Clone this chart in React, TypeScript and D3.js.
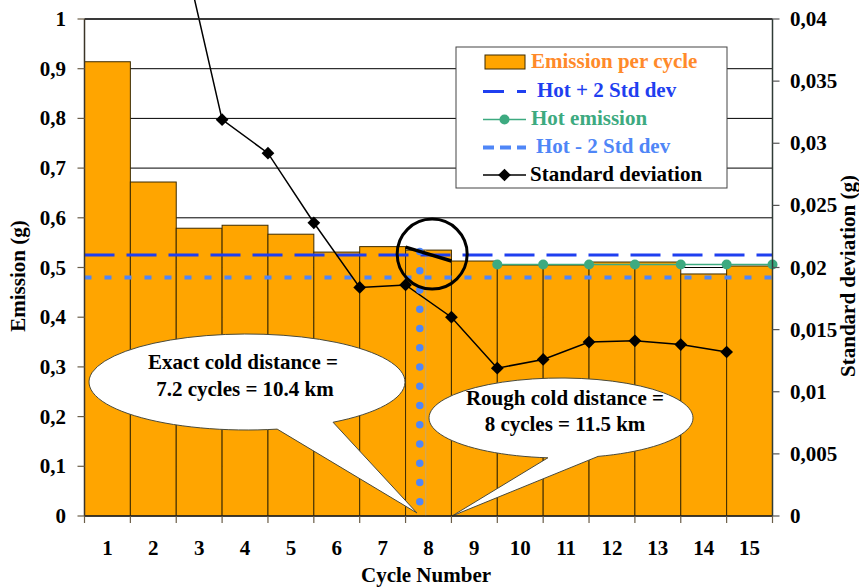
import React from 'react';
import * as d3 from 'd3';

const categories = ['1', '2', '3', '4', '5', '6', '7', '8', '9', '10', '11', '12', '13', '14', '15'];
const emissionPerCycle = [0.914, 0.672, 0.579, 0.585, 0.567, 0.531, 0.542, 0.535, 0.513, 0.505, 0.505, 0.511, 0.511, 0.487, 0.503];

const stdDevPositions = [1, 2, 3, 4, 5, 6, 7, 8, 9, 10, 11, 12, 13, 14];
const stdDevValues = [0.075, 0.048, 0.0319, 0.0292, 0.0236, 0.0184, 0.0186, 0.016, 0.0119, 0.0126, 0.014, 0.0141, 0.0138, 0.0132];

const hotPositions = [9, 10, 11, 12, 13, 14, 15];
const hotEmissionValues = [0.506, 0.506, 0.506, 0.506, 0.506, 0.506, 0.506];

const bandPositions = [0, 15];
const hotPlus2Std = [0.525, 0.525];
const hotMinus2Std = [0.48, 0.48];

const coldPositions = [7.31, 7.31];
const coldValues = [0.532, 0];
const edgePositions = [7.44, 7.44];
const edgeValues = [0.535, 0];
const interpPositions = [7, 8];
const interpValues = [0.541, 0.513];
const circlePos = 7.58;
const circleVal = 0.527;

const leftTicks = [0, 0.1, 0.2, 0.3, 0.4, 0.5, 0.6, 0.7, 0.8, 0.9, 1];
const leftTickLabels = ['0', '0,1', '0,2', '0,3', '0,4', '0,5', '0,6', '0,7', '0,8', '0,9', '1'];
const rightTicks = [0, 0.005, 0.01, 0.015, 0.02, 0.025, 0.03, 0.035, 0.04];
const rightTickLabels = ['0', '0,005', '0,01', '0,015', '0,02', '0,025', '0,03', '0,035', '0,04'];

const legendItems = ['Emission per cycle', 'Hot + 2 Std dev', 'Hot emission', 'Hot - 2 Std dev', 'Standard deviation'];

const W = 859, H = 587;
const L = 84.5, R = 772.5, T = 19, B = 516;
const FONT = 'Liberation Serif';
const FS = 21;

const ORANGE = '#FFA500';
const DARKBLUE = '#1f3ff0';
const LIGHTBLUE = '#4f86f7';
const GREEN = '#3daa80';
const LEGEND_ORANGE = '#ff8a2a';

function calloutPath(cx: number, cy: number, rx: number, ry: number, aA: number, aB: number, tx: number, ty: number) {
  const ra = (aA * Math.PI) / 180, rb = (aB * Math.PI) / 180;
  const ax = cx + rx * Math.cos(ra), ay = cy + ry * Math.sin(ra);
  const bx = cx + rx * Math.cos(rb), by = cy + ry * Math.sin(rb);
  return `M${ax},${ay} L${tx},${ty} L${bx},${by} A${rx},${ry} 0 1 1 ${ax},${ay} Z`;
}

export default function App() {
  const xBand = d3.scaleBand<string>().domain(categories).range([L, R]).padding(0);
  const xPos = d3.scaleLinear().domain([0, 15]).range([L, R]);
  const yL = d3.scaleLinear().domain([0, 1]).range([B, T]);
  const yR = d3.scaleLinear().domain([0, 0.04]).range([B, T]);

  const lineL = d3.line<[number, number]>().x(d => xPos(d[0])).y(d => yL(d[1]));
  const lineR = d3.line<[number, number]>().x(d => xPos(d[0])).y(d => yR(d[1]));
  const zip = (a: number[], b: number[]) => a.map((v, i) => [v, b[i]] as [number, number]);

  const lx = 456, ly = 47, lw = 271, lh = 141;
  const rowY = [62, 91.5, 119.5, 147.5, 175];
  const swX1 = 483, swX2 = 526;
  const txt = { fontFamily: FONT, fontWeight: 700 as const, fontSize: FS };

  return (
    <svg width={W} height={H} style={{ position: 'absolute', left: 0, top: 0, background: '#fff' }}>
      {/* gridlines */}
      {leftTicks.filter(t => t > 0).map(t => (
        <line key={'g' + t} x1={L} x2={R} y1={yL(t)} y2={yL(t)} stroke="#000" strokeWidth={1} />
      ))}
      {/* bars */}
      {categories.map((c, i) => (
        <rect key={'b' + c} x={xBand(c)} y={yL(emissionPerCycle[i])} width={xBand.bandwidth()} height={B - yL(emissionPerCycle[i])}
          fill={ORANGE} stroke="#3d2b00" strokeWidth={1} />
      ))}
      {/* thin edge line */}
      <path d={lineL(zip(edgePositions, edgeValues)) || ''} stroke="#c9a86a" strokeWidth={1} fill="none" />
      {/* hot +/- 2 std */}
      <path d={lineL(zip(bandPositions, hotPlus2Std)) || ''} stroke={DARKBLUE} strokeWidth={3} strokeDasharray="30,12" fill="none" />
      <path d={lineL(zip(bandPositions, hotMinus2Std)) || ''} stroke={LIGHTBLUE} strokeWidth={4} strokeDasharray="7,13" fill="none" />
      {/* hot emission */}
      <path d={lineL(zip(hotPositions, hotEmissionValues)) || ''} stroke={GREEN} strokeWidth={1.5} fill="none" />
      {hotPositions.map((p, i) => (
        <circle key={'h' + p} cx={xPos(p)} cy={yL(hotEmissionValues[i])} r={5} fill={GREEN} />
      ))}
      {/* std dev */}
      <path d={lineR(zip(stdDevPositions, stdDevValues)) || ''} stroke="#000" strokeWidth={1.5} fill="none" />
      {stdDevPositions.map((p, i) => (
        <rect key={'s' + p} x={xPos(p) - 4.5} y={yR(stdDevValues[i]) - 4.5} width={9} height={9} fill="#000"
          transform={`rotate(45 ${xPos(p)} ${yR(stdDevValues[i])})`} />
      ))}
      {/* vertical dotted cold line */}
      <path d={lineL(zip(coldPositions, coldValues)) || ''} stroke={LIGHTBLUE} strokeWidth={7.5} strokeLinecap="round" strokeDasharray="0,19.25" fill="none" />
      {/* interpolation segment + circle */}
      <path d={lineL(zip(interpPositions, interpValues)) || ''} stroke="#000" strokeWidth={3.5} fill="none" />
      <circle cx={xPos(circlePos)} cy={yL(circleVal)} r={35} fill="none" stroke="#000" strokeWidth={3} />

      {/* callouts */}
      <path d={calloutPath(247, 382, 158, 48, 57, 79, 417, 513)} fill="#fff" stroke="#4a4a3a" strokeWidth={1} />
      <text {...txt} x={243} y={369} textAnchor="middle">Exact cold distance =</text>
      <text {...txt} x={245} y={396} textAnchor="middle">7.2 cycles = 10.4 km</text>
      <path d={calloutPath(561, 418, 132, 40, 73.7, 95.7, 452, 516)} fill="#fff" stroke="#4a4a3a" strokeWidth={1} />
      <text {...txt} x={565} y={405} textAnchor="middle">Rough cold distance =</text>
      <text {...txt} x={565} y={431} textAnchor="middle">8 cycles = 11.5 km</text>

      {/* frame */}
      <line x1={L} x2={R} y1={T} y2={T} stroke="#222" strokeWidth={1.5} />
      <line x1={L} x2={R} y1={B} y2={B} stroke="#222" strokeWidth={1.5} />
      <line x1={L} x2={L} y1={T} y2={B} stroke="#3b3428" strokeWidth={1.5} />
      <line x1={R} x2={R} y1={T} y2={B} stroke="#2f3b36" strokeWidth={1.5} />

      {/* left axis */}
      {leftTicks.map((t, i) => (
        <g key={'lt' + t}>
          <line x1={L - 7} x2={L} y1={yL(t)} y2={yL(t)} stroke="#6b5e48" strokeWidth={1.2} />
          <text {...txt} x={66} y={yL(t) + 7} textAnchor="end">{leftTickLabels[i]}</text>
        </g>
      ))}
      {/* right axis */}
      {rightTicks.map((t, i) => (
        <g key={'rt' + t}>
          <line x1={R} x2={R + 7} y1={yR(t)} y2={yR(t)} stroke="#555" strokeWidth={1.2} />
          <text {...txt} x={790} y={yR(t) + 7} textAnchor="start">{rightTickLabels[i]}</text>
        </g>
      ))}
      {/* x axis */}
      {d3.range(0, 16).map(k => (
        <line key={'xt' + k} x1={xPos(k)} x2={xPos(k)} y1={B} y2={B + 7} stroke="#6b5e48" strokeWidth={1.2} />
      ))}
      {categories.map(c => (
        <text {...txt} key={'xl' + c} x={(xBand(c) || 0) + xBand.bandwidth() / 2} y={555} textAnchor="middle">{c}</text>
      ))}
      <text {...txt} x={426} y={582} textAnchor="middle">Cycle Number</text>
      <text {...txt} transform="translate(25,276) rotate(-90)" textAnchor="middle">Emission (g)</text>
      <text {...txt} transform="translate(855,276) rotate(-90)" textAnchor="middle">Standard deviation (g)</text>

      {/* legend */}
      <rect x={lx} y={ly} width={lw} height={lh} fill="#fff" stroke="#444" strokeWidth={1} />
      <rect x={485} y={55} width={40} height={14} fill={ORANGE} stroke="#3d2b00" strokeWidth={1} />
      <line x1={swX1} x2={swX2} y1={rowY[1]} y2={rowY[1]} stroke={DARKBLUE} strokeWidth={3} strokeDasharray="21,13" />
      <line x1={swX1} x2={swX2} y1={rowY[2]} y2={rowY[2]} stroke={GREEN} strokeWidth={1.5} />
      <circle cx={504.5} cy={rowY[2]} r={5} fill={GREEN} />
      <line x1={swX1} x2={swX2} y1={rowY[3]} y2={rowY[3]} stroke={LIGHTBLUE} strokeWidth={4} strokeDasharray="11,6" />
      <line x1={swX1} x2={swX2} y1={rowY[4]} y2={rowY[4]} stroke="#000" strokeWidth={1.5} />
      <rect x={500} y={rowY[4] - 4.5} width={9} height={9} fill="#000" transform={`rotate(45 504.5 ${rowY[4]})`} />
      <text {...txt} x={531} y={68} fill={LEGEND_ORANGE}>{legendItems[0]}</text>
      <text {...txt} x={537} y={97} fill={DARKBLUE}>{legendItems[1]}</text>
      <text {...txt} x={531} y={125} fill={GREEN}>{legendItems[2]}</text>
      <text {...txt} x={536} y={153} fill={LIGHTBLUE}>{legendItems[3]}</text>
      <text {...txt} x={530} y={181} fill="#000">{legendItems[4]}</text>
    </svg>
  );
}
